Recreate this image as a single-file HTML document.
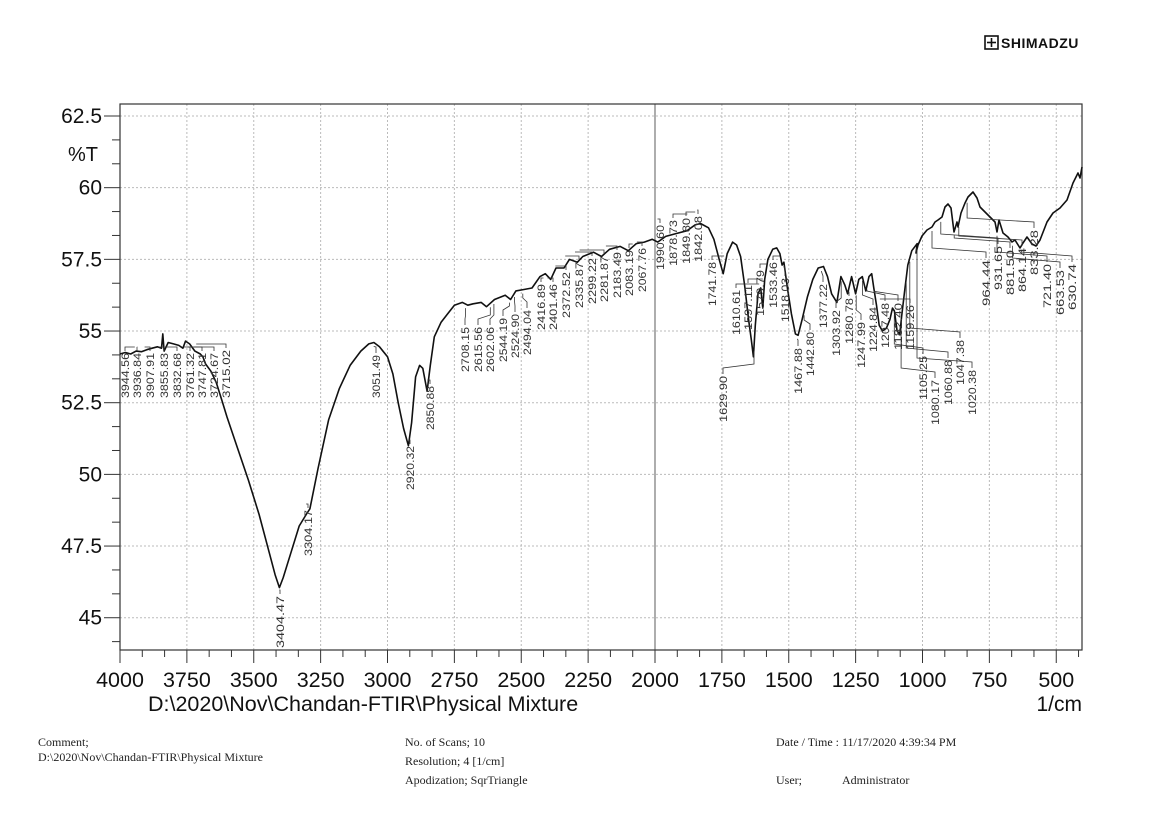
<!DOCTYPE html>
<html><head><meta charset="utf-8">
<style>
body{margin:0;background:#fff;width:1154px;height:833px;overflow:hidden;}
svg{display:block}
.ft{font-family:"Liberation Serif",serif;font-size:12px;fill:#222}
</style></head><body>
<svg id="s" width="1154" height="833" xmlns="http://www.w3.org/2000/svg" font-family="Liberation Sans, sans-serif">
<g id="grid"></g>
<rect x="985" y="36" width="13" height="13" fill="none" stroke="#111" stroke-width="1.6"/>
<line x1="991.5" y1="38" x2="991.5" y2="47" stroke="#111" stroke-width="1.6"/>
<line x1="987" y1="42.5" x2="996" y2="42.5" stroke="#111" stroke-width="1.6"/>
<text x="1001" y="48" font-size="14" font-weight="bold" fill="#111" letter-spacing="0.5">SHIMADZU</text>
<text x="68" y="161" font-size="20" fill="#111">%T</text>
<text x="148" y="711" font-size="21.5" fill="#111">D:\2020\Nov\Chandan-FTIR\Physical Mixture</text>
<text x="1082" y="711" font-size="21" fill="#111" text-anchor="end">1/cm</text>
<text class="ft" x="38" y="746">Comment;</text>
<text class="ft" x="38" y="761">D:\2020\Nov\Chandan-FTIR\Physical Mixture</text>
<text class="ft" x="405" y="746">No. of Scans; 10</text>
<text class="ft" x="405" y="765">Resolution;   4 [1/cm]</text>
<text class="ft" x="405" y="784">Apodization;  SqrTriangle</text>
<text class="ft" x="776" y="746">Date / Time : 11/17/2020 4:39:34 PM</text>
<text class="ft" x="776" y="784">User;</text>
<text class="ft" x="842" y="784">Administrator</text>
<g id="plot"></g>
</svg>
<script>
var NS="http://www.w3.org/2000/svg";
function X(w){return 120+(4000-w)*0.2675;}
function Y(t){return 116+(62.5-t)*28.67;}
function el(p,n,a,txt){var e=document.createElementNS(NS,n);for(var k in a)e.setAttribute(k,a[k]);if(txt!=null)e.textContent=txt;p.appendChild(e);return e;}
var s=document.getElementById('s'),g=document.getElementById('grid'),pl=document.getElementById('plot');
for(var w=3750;w>400;w-=250){if(w==2000)continue;el(g,'line',{x1:X(w),y1:104,x2:X(w),y2:650,stroke:'#bbb','stroke-dasharray':'2,2','stroke-width':1});}
for(var t=45;t<=62.5;t+=2.5){el(g,'line',{x1:120,y1:Y(t),x2:1082,y2:Y(t),stroke:'#bbb','stroke-dasharray':'2,2','stroke-width':1});}
el(g,'line',{x1:X(2000),y1:104,x2:X(2000),y2:650,stroke:'#777','stroke-width':1.2});
el(g,'rect',{x:120,y:104,width:962,height:546,fill:'none',stroke:'#333','stroke-width':1.2});
for(var i=0;i<=23;i++){var t=62.5-i*2.5/3;if(t<43.9)break;var y=Y(t);var maj=(i%3==0);
el(g,'line',{x1:maj?104:112,y1:y,x2:120,y2:y,stroke:'#333','stroke-width':1});
if(maj)el(g,'text',{x:102,y:y+7,'font-size':21,'text-anchor':'end',fill:'#111'},(Math.round(t*10)/10).toString());}
for(var i=0;i<=43;i++){var w=4000-i*250/3;if(w<399)break;var x=X(w);var maj=(i%3==0);
el(g,'line',{x1:x,y1:650,x2:x,y2:maj?663:657,stroke:'#333','stroke-width':1});
if(maj)el(g,'text',{x:x,y:687,'font-size':21.5,'text-anchor':'middle',fill:'#111'},Math.round(w).toString());}
var wt=[[4000,54.2],[3980,54.25],[3960,54.2],[3940,54.3],[3920,54.28],[3900,54.35],[3880,54.4],[3860,54.45],[3845,54.4],[3840,54.9],[3835,54.3],[3820,54.6],[3800,54.55],[3780,54.5],[3765,54.4],[3755,54.65],[3740,54.55],[3720,54.3],[3700,54.2],[3690,54.1],[3680,53.85],[3660,53.6],[3640,53.2],[3620,52.6],[3600,52.0],[3560,50.9],[3520,49.8],[3480,48.6],[3440,47.2],[3420,46.5],[3404,46.05],[3390,46.4],[3360,47.3],[3330,48.2],[3304,48.6],[3290,48.8],[3260,50.2],[3220,51.9],[3180,53.0],[3140,53.8],[3100,54.3],[3070,54.55],[3051,54.6],[3030,54.45],[3000,54.1],[2980,53.5],[2960,52.5],[2940,51.6],[2922,51.0],[2910,51.8],[2895,53.4],[2880,53.8],[2868,53.7],[2852,52.9],[2840,53.8],[2825,54.8],[2800,55.3],[2775,55.6],[2750,55.9],[2720,56.0],[2700,55.9],[2680,55.95],[2650,56.0],[2630,55.85],[2600,56.1],[2560,56.25],[2540,56.1],[2520,56.4],[2490,56.45],[2460,56.5],[2430,56.9],[2410,57.0],[2390,56.8],[2370,57.2],[2340,57.2],[2320,57.5],[2290,57.4],[2270,57.6],[2230,57.75],[2200,57.6],[2170,57.85],[2130,57.95],[2100,57.8],[2070,58.05],[2040,58.1],[2010,58.2],[1990,58.1],[1960,58.3],[1920,58.4],[1880,58.5],[1850,58.7],[1830,58.75],[1800,58.6],[1780,58.2],[1760,57.5],[1745,57.0],[1730,57.7],[1710,58.1],[1695,58.0],[1680,57.6],[1665,56.6],[1650,55.4],[1640,54.7],[1632,54.1],[1625,55.2],[1615,56.3],[1605,56.5],[1597,55.8],[1590,56.8],[1578,57.5],[1560,57.85],[1545,57.9],[1533,57.7],[1525,57.3],[1518,57.4],[1505,56.5],[1490,55.6],[1475,54.9],[1465,54.85],[1450,55.4],[1430,56.2],[1410,56.8],[1390,57.2],[1370,57.25],[1355,56.9],[1340,56.3],[1320,56.0],[1305,56.9],[1290,56.6],[1280,56.3],[1265,56.9],[1250,56.3],[1238,56.8],[1225,56.9],[1212,56.4],[1200,56.9],[1190,57.0],[1182,56.5],[1172,55.9],[1162,55.2],[1150,55.0],[1135,55.1],[1122,55.4],[1112,55.8],[1105,55.7],[1095,55.0],[1085,54.9],[1078,55.5],[1068,56.3],[1055,57.3],[1040,57.8],[1020,58.05]];
var px=[[916,253],[918,245],[922,236],[927,230],[932,227],[935,222],[938,220],[942,217],[945,207],[948,204],[951,208],[954,232],[957,222],[958,227],[961,213],[965,203],[968,197],[973,192],[977,198],[980,207],[985,212],[990,217],[995,222],[997,232],[999,220],[1003,233],[1008,237],[1012,242],[1015,240],[1020,248],[1023,243],[1027,237],[1032,244],[1036,246],[1040,240],[1047,222],[1053,213],[1060,208],[1067,200],[1073,183],[1078,173],[1080,178],[1082,167]];
var pts=wt.map(function(p){return [X(p[0]),Y(p[1])];}).concat(px);
el(pl,'polyline',{points:pts.map(function(p){return p[0].toFixed(1)+','+p[1].toFixed(1);}).join(' '),fill:'none',stroke:'#111','stroke-width':1.6,'stroke-linejoin':'round'});
function cy(x){for(var i=1;i<pts.length;i++){if(pts[i][0]>=x){var a=pts[i-1],b=pts[i];var f=(x-a[0])/((b[0]-a[0])||1);return a[1]+f*(b[1]-a[1]);}}return pts[pts.length-1][1];}
var L=[["3944.56",125,353,398],["3936.84",137,353,398],["3907.91",150,353,398],["3855.83",164,353,398],["3832.68",177,353,398],["3761.32",190,353,398],["3747.81",202,353,398],["3724.67",214,353,398],["3715.02",226,350,398],
["3051.49",376,355,398],["2920.32",410,446,490],["2850.88",430,386,430],["3404.47",280,596,648],["3304.17",308,510,556],
["2708.15",465,327,372],["2615.56",478,327,372],["2602.06",490,327,372],["2544.19",503,318,362],["2524.90",515,314,358],["2494.04",527,310,355],["2416.89",541,284,330],["2401.46",553,284,330],["2372.52",566,272,318],["2335.87",579,262,308],["2299.22",592,258,304],["2281.87",604,256,302],["2183.49",617,252,298],["2083.19",629,250,296],["2067.76",642,248,292],
["1990.60",660,225,270],["1878.73",673,220,266],["1849.80",686,218,264],["1842.08",698,216,262],["1741.78",712,262,306],["1629.90",723,376,422],["1610.61",736,290,335],["1597.11",748,285,330],["1579.79",760,270,316],["1533.46",773,262,308],["1518.03",785,278,322],["1467.88",798,348,394],["1442.80",810,332,376],["1377.22",823,284,328],["1303.92",836,310,356],["1280.78",849,298,344],["1247.99",861,322,368],["1224.84",873,307,352],["1207.48",885,303,348],["1182.40",898,303,350],["1159.26",910,305,350],["1105.25",923,356,400],["1080.17",935,380,425],["1060.88",948,360,405],["1047.38",960,340,385],["1020.38",972,370,415],
["964.44",986,260,306],["931.65",998,246,290],["881.50",1010,250,295],["864.14",1022,248,292],["833.28",1034,230,275],["721.40",1047,264,308],["663.53",1060,270,315],["630.74",1072,264,310]];
var wl=[3944.56,3936.84,3907.91,3855.83,3832.68,3761.32,3747.81,3724.67,3715.02,3051.49,2920.32,2850.88,3404.47,3304.17,2708.15,2615.56,2602.06,2544.19,2524.90,2494.04,2416.89,2401.46,2372.52,2335.87,2299.22,2281.87,2183.49,2083.19,2067.76,1990.60,1878.73,1849.80,1842.08,1741.78,1629.90,1610.61,1597.11,1579.79,1533.46,1518.03,1467.88,1442.80,1377.22,1303.92,1280.78,1247.99,1224.84,1207.48,1182.40,1159.26,1105.25,1080.17,1060.88,1047.38,1020.38,964.44,931.65,881.50,864.14,833.28,721.40,663.53,630.74];
L.forEach(function(l,i){var x=l[1],yt=l[2],yb=l[3];
 var cx=X(wl[i]),cyv=cy(cx)+4;
 el(pl,'text',{x:0,y:0,'font-size':11,fill:'#333',transform:'translate('+(x+4)+','+yb+') rotate(-90)','textLength':(yb-yt),'lengthAdjust':'spacingAndGlyphs'},l[0]);
 var d;
 if(cyv<yt-8){d='M'+x+','+(yt-2)+' L'+x+','+(yt-8)+' L'+cx.toFixed(1)+','+(yt-8>cyv+4?(yt-12):cyv).toFixed(1)+' L'+cx.toFixed(1)+','+cyv.toFixed(1);}
 else{d='M'+x+','+(yt-2)+' L'+x+','+(yt-6)+' L'+cx.toFixed(1)+','+(yt-6);}
 el(pl,'path',{d:d,fill:'none',stroke:'#333','stroke-width':0.8});
});
</script>
</body></html>
